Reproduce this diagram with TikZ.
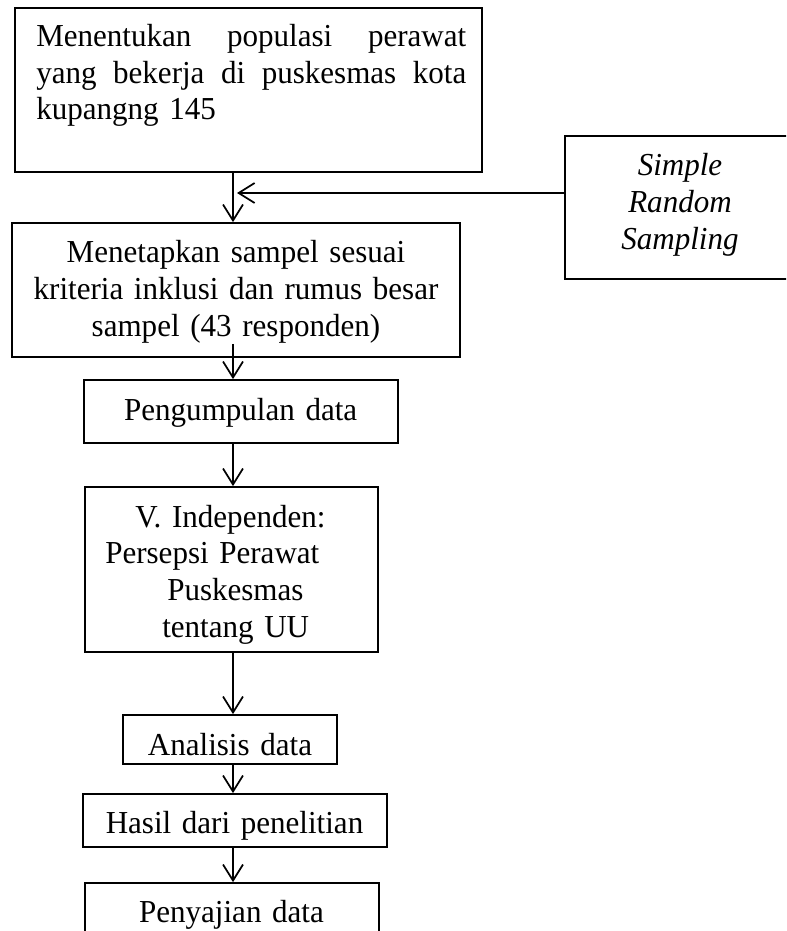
\documentclass[tikz,border=0pt]{standalone}
\usepackage{fontspec}
\setmainfont[FakeStretch=0.97]{Liberation Serif}
\usetikzlibrary{arrows.meta,calc}
\begin{document}
\begin{tikzpicture}[x=0.75pt,y=-0.75pt,
  box/.style={draw, line width=1.3pt, rectangle, inner sep=0pt},
  ctxt/.style={inner sep=0pt, text width=330pt, align=center, anchor=base},
  ltxt/.style={inner sep=0pt, text width=330pt, align=left, anchor=base west},
  arr/.style={draw, line width=1.3pt, -{Straight Barb[length=12pt,width=15pt]}}]
\useasboundingbox (0,0) rectangle (786,931);
\clip (0,0) rectangle (786,931);

% boxes
\node[box, minimum width=467*0.75pt, minimum height=164*0.75pt] (b1) at (248.5,90) {};
\node[box, minimum width=235*0.75pt, minimum height=143*0.75pt] (srs) at (682.5,207.5) {};
\node[box, minimum width=448*0.75pt, minimum height=134*0.75pt] (b2) at (236,290) {};
\node[box, minimum width=314*0.75pt, minimum height=63*0.75pt] (b3) at (241,411.5) {};
\node[box, minimum width=293*0.75pt, minimum height=165*0.75pt] (b4) at (231.5,569.5) {};
\node[box, minimum width=214*0.75pt, minimum height=49*0.75pt] (b5) at (230,739.5) {};
\node[box, minimum width=304*0.75pt, minimum height=53*0.75pt] (b6) at (235,820.5) {};
\node[box, minimum width=294*0.75pt, minimum height=77*0.75pt] (b7) at (232,921.5) {};

% texts
\node[ltxt, font=\fontsize{24pt}{27.2pt}\selectfont] (t1) at (36,47)
  {\makebox[322.5pt][l]{Menentukan\hfill populasi\hfill perawat}\\
   \makebox[322.5pt][l]{yang\hfill bekerja\hfill di\hfill puskesmas\hfill kota}\\
   kupangng 145};
\node[ctxt, font=\fontsize{24pt}{28pt}\selectfont\itshape] (tsrs) at (680,175)
  {Simple\\Random\\Sampling};
\node[ctxt, font=\fontsize{24pt}{28pt}\selectfont] (t2) at (236,262)
  {Menetapkan sampel sesuai\\kriteria inklusi dan rumus besar\\sampel (43 responden)};
\node[ctxt, font=\fontsize{24pt}{28pt}\selectfont] (t3) at (240.7,420.7) {Pengumpulan data};
\node[ltxt, font=\fontsize{24pt}{27.5pt}\selectfont] (t4) at (105,527)
  {\hspace*{22.5pt}V. Independen:\\
   Persepsi Perawat\\
   \hspace*{46.5pt}Puskesmas\\
   \hspace*{42.75pt}tentang UU};
\node[ctxt, font=\fontsize{24pt}{28pt}\selectfont] (t5) at (230,755) {Analisis data};
\node[ctxt, font=\fontsize{24pt}{28pt}\selectfont] (t6) at (234.5,833) {Hasil dari penelitian};
\node[ctxt, font=\fontsize{24pt}{28pt}\selectfont] (t7) at (231.5,922) {Penyajian data};

% connectors
\coordinate (ax) at (233,0);
\coordinate (jn) at (237,193);
\coordinate (s2) at ($(b2.south -| ax)+(0,-14)$);
\draw[arr] (b1.south -| ax) -- (b2.north -| ax);
\draw[arr] (srs.west |- jn) -- (jn);
\draw[arr] (s2) -- (b3.north -| ax);
\draw[arr] (b3.south -| ax) -- (b4.north -| ax);
\draw[arr] (b4.south -| ax) -- (b5.north -| ax);
\draw[arr] (b5.south -| ax) -- (b6.north -| ax);
\draw[arr] (b6.south -| ax) -- (b7.north -| ax);
\end{tikzpicture}
\end{document}
